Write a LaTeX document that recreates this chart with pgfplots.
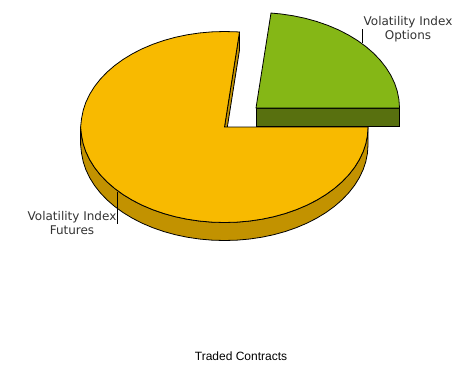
\documentclass[border=0pt]{standalone}
\usepackage{pgfplots}
\pgfplotsset{compat=1.18}
\usepackage{fontspec}
\setmainfont{DejaVu Sans}
\newfontfamily\arialf{Liberation Sans}
\definecolor{org}{HTML}{F8BA00}
\definecolor{orgd}{HTML}{C29200}
\definecolor{grn}{HTML}{85B716}
\definecolor{grnd}{HTML}{58700F}
\definecolor{lab}{HTML}{333333}
\begin{document}
\begin{tikzpicture}
\begin{axis}[scale only axis,width=473pt,height=365pt,xmin=0,xmax=473,ymin=0,ymax=365,y dir=reverse,hide axis,clip=false]
\path (axis cs:0,0) -- (axis cs:473,365);
% main slice: outer wall
\addplot[fill=orgd,draw=black,line width=0.8pt,mark=none] coordinates {
(368,127)(367.45,135.33)(365.82,143.58)(363.11,151.72)(359.35,159.66)(354.55,167.36)(348.77,174.75)(342.06,181.78)(334.42,188.39)(325.97,194.53)(316.74,200.15)(306.81,205.23)(296.25,209.70)(285.14,213.55)(273.58,216.74)(261.64,219.24)(249.41,221.05)(237.01,222.14)(224.5,222.5)
(211.99,222.14)(199.59,221.05)(187.36,219.24)(175.42,216.74)(163.86,213.55)(152.75,209.70)(142.19,205.23)(132.26,200.15)(123.03,194.53)(114.58,188.39)(106.94,181.78)(100.23,174.75)(94.45,167.36)(89.65,159.66)(85.89,151.72)(83.18,143.58)(81.55,135.33)(80.6,127)
(80.6,145)(81.55,153.33)(83.18,161.58)(85.89,169.72)(89.65,177.66)(94.45,185.36)(100.23,192.75)(106.94,199.78)(114.58,206.39)(123.03,212.53)(132.26,218.15)(142.19,223.23)(152.75,227.70)(163.86,231.55)(175.42,234.74)(187.36,237.24)(199.59,239.05)(211.99,240.14)(224.5,240.5)
(237.01,240.14)(249.41,239.05)(261.64,237.24)(273.58,234.74)(285.14,231.55)(296.25,227.70)(306.81,223.23)(316.74,218.15)(325.97,212.53)(334.42,206.39)(342.06,199.78)(348.77,192.75)(354.55,185.36)(359.35,177.66)(363.11,169.72)(365.82,161.58)(367.45,153.33)(368,145)
} --cycle;
% main slice: cut face
\addplot[fill=orgd,draw=black,line width=0.8pt,mark=none] coordinates {(239.5,32)(239.5,50)(224.5,145)(224.5,127)} --cycle;
% main slice: top
\addplot[fill=org,draw=black,line width=0.8pt,mark=none] coordinates {
(224.5,127)(368,127)(367.45,135.33)(365.82,143.58)(363.11,151.72)(359.35,159.66)(354.55,167.36)(348.77,174.75)(342.06,181.78)(334.42,188.39)(325.97,194.53)(316.74,200.15)(306.81,205.23)(296.25,209.70)(285.14,213.55)(273.58,216.74)(261.64,219.24)(249.41,221.05)(237.01,222.14)(224.5,222.5)
(211.99,222.14)(199.59,221.05)(187.36,219.24)(175.42,216.74)(163.86,213.55)(152.75,209.70)(142.19,205.23)(132.26,200.15)(123.03,194.53)(114.58,188.39)(106.94,181.78)(100.23,174.75)(94.45,167.36)(89.65,159.66)(85.89,151.72)(83.18,143.58)(81.55,135.33)(80.6,127)
(81.55,118.67)(83.18,110.42)(85.89,102.28)(89.65,94.34)(94.45,86.64)(100.23,79.25)(106.94,72.22)(114.58,65.61)(123.03,59.47)(132.26,53.85)(142.19,48.77)(152.75,44.30)(163.86,40.45)(175.42,37.26)(187.36,34.76)(199.59,32.95)(211.99,31.86)(224.5,31.5)(237.01,31.86)(239.5,32)
} --cycle;
% green slice: wall
\addplot[fill=grnd,draw=black,line width=0.8pt,mark=none] coordinates {(256,108)(399.5,108)(399.5,126)(256,126)} --cycle;
% green slice: top
\addplot[fill=grn,draw=black,line width=0.8pt,mark=none] coordinates {
(256,108)(399.5,108)(398.95,99.67)(397.32,91.42)(394.61,83.28)(390.85,75.34)(386.05,67.64)(380.27,60.25)(373.56,53.22)(365.92,46.61)(357.47,40.47)(348.24,34.85)(338.31,29.77)(327.75,25.30)(316.64,21.45)(305.08,18.26)(293.14,15.76)(280.91,13.95)(271,13.02)
} --cycle;
% leaders
\addplot[draw=black,line width=0.8pt,mark=none] coordinates {(362.5,29)(362.5,43)};
\addplot[draw=black,line width=0.8pt,mark=none] coordinates {(117.5,191.5)(117.5,224)};
\node[font=\fontsize{12}{14}\selectfont,text=lab,align=center,inner sep=0pt] at (axis cs:408,29) {Volatility Index\\Options};
\node[font=\fontsize{12}{14}\selectfont,text=lab,align=center,inner sep=0pt] at (axis cs:72,223) {Volatility Index\\Futures};
\node[font=\arialf\fontsize{12}{14}\selectfont,text=black,inner sep=0pt] at (axis cs:241,356) {Traded Contracts};
\end{axis}
\end{tikzpicture}
\end{document}
